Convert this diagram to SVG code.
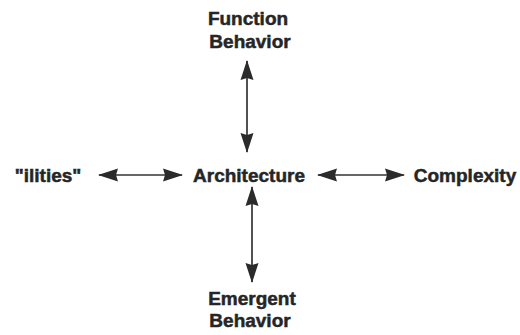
<svg xmlns="http://www.w3.org/2000/svg" width="520" height="335" viewBox="0 0 520 335">
  <style>
    .lbl { font-family: "Liberation Sans", Arial, sans-serif; font-weight: bold; font-size: 19px; fill: #262626; stroke: #262626; stroke-width: 0.5; }
    .link { stroke: #333; stroke-width: 1.7; fill: none; marker-start: url(#head); marker-end: url(#head); }
  </style>
  <defs>
    <marker id="head" markerUnits="userSpaceOnUse" markerWidth="20" markerHeight="14" viewBox="0 0 20 14" refX="19" refY="7" orient="auto-start-reverse">
      <path d="M0,0.5 L20,7 L0,13.5 L2,7 Z" fill="#2b2b2b"/>
    </marker>
  </defs>
  <rect width="520" height="335" fill="#fff"/>
  <g id="connectors">
    <path class="link" d="M247,61 L247,152"/>
    <path class="link" d="M252,187 L252,282"/>
    <path class="link" d="M99,175 L182,175"/>
    <path class="link" d="M318,175 L404,175"/>
  </g>
  <g id="function-behavior">
    <text class="lbl" x="248" y="25" text-anchor="middle">Function</text>
    <text class="lbl" x="250" y="48" text-anchor="middle">Behavior</text>
  </g>
  <g id="architecture">
    <text class="lbl" x="249" y="182" text-anchor="middle">Architecture</text>
  </g>
  <g id="ilities">
    <text class="lbl" x="48" y="182" text-anchor="middle">"ilities"</text>
  </g>
  <g id="complexity">
    <text class="lbl" x="465" y="182" text-anchor="middle">Complexity</text>
  </g>
  <g id="emergent-behavior">
    <text class="lbl" x="252" y="305" text-anchor="middle">Emergent</text>
    <text class="lbl" x="250" y="327" text-anchor="middle">Behavior</text>
  </g>
</svg>
